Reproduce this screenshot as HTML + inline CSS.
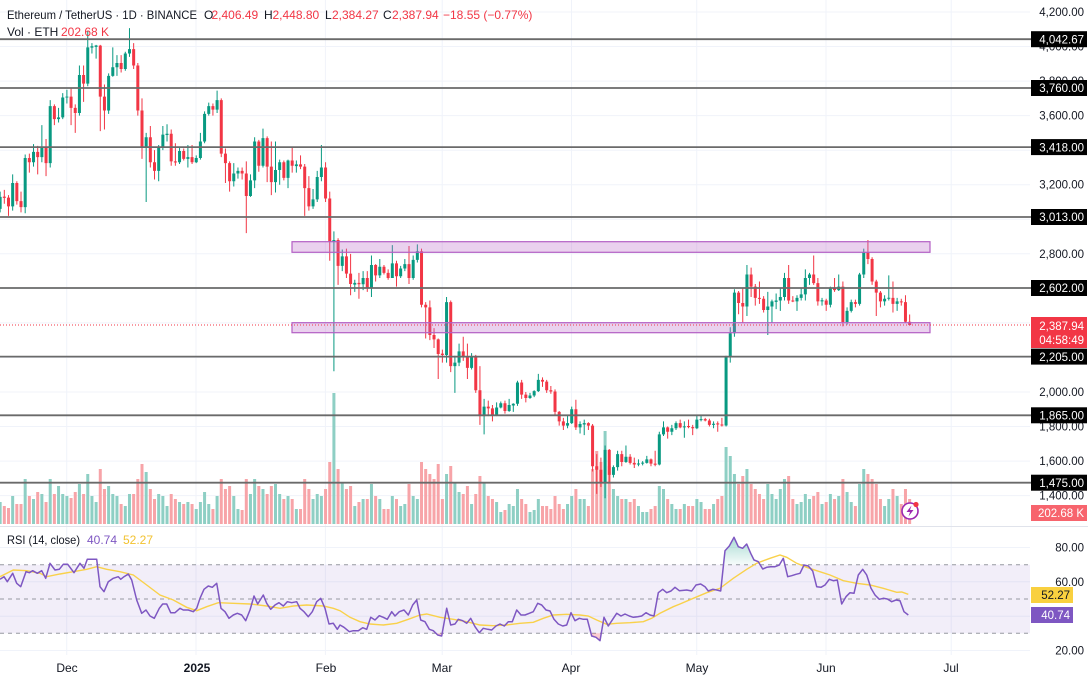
<!DOCTYPE html>
<html><head><meta charset="utf-8">
<style>
html,body{margin:0;padding:0;background:#fff;width:1088px;height:675px;overflow:hidden}
svg{display:block;font-family:"Liberation Sans",sans-serif}
</style></head><body>
<svg width="1088" height="675" viewBox="0 0 1088 675" xmlns="http://www.w3.org/2000/svg">
<defs>
<clipPath id="cm"><rect x="0" y="0" width="1030" height="526"/></clipPath>
<clipPath id="cr"><rect x="0" y="527" width="1030" height="128"/></clipPath>
<linearGradient id="gob" gradientUnits="userSpaceOnUse" x1="0" y1="537" x2="0" y2="565"><stop offset="0" stop-color="#089981" stop-opacity="0.35"/><stop offset="1" stop-color="#089981" stop-opacity="0.03"/></linearGradient>
</defs>

<!-- grid -->
<g stroke="#f0f3fa" stroke-width="1">
<line x1="0" x2="1030" y1="12" y2="12"/><line x1="0" x2="1030" y1="46.5" y2="46.5"/><line x1="0" x2="1030" y1="81.1" y2="81.1"/><line x1="0" x2="1030" y1="115.6" y2="115.6"/><line x1="0" x2="1030" y1="150.2" y2="150.2"/><line x1="0" x2="1030" y1="184.7" y2="184.7"/><line x1="0" x2="1030" y1="219.3" y2="219.3"/><line x1="0" x2="1030" y1="253.8" y2="253.8"/><line x1="0" x2="1030" y1="288.4" y2="288.4"/><line x1="0" x2="1030" y1="322.9" y2="322.9"/><line x1="0" x2="1030" y1="357.5" y2="357.5"/><line x1="0" x2="1030" y1="392" y2="392"/><line x1="0" x2="1030" y1="426.5" y2="426.5"/><line x1="0" x2="1030" y1="461.1" y2="461.1"/><line x1="0" x2="1030" y1="495.6" y2="495.6"/>
<line x1="0" x2="1030" y1="547.5" y2="547.5"/><line x1="0" x2="1030" y1="581.8" y2="581.8"/><line x1="0" x2="1030" y1="616.2" y2="616.2"/><line x1="0" x2="1030" y1="650.5" y2="650.5"/>
<line x1="66.7" x2="66.7" y1="0" y2="655"/><line x1="196" x2="196" y1="0" y2="655"/><line x1="325.4" x2="325.4" y1="0" y2="655"/><line x1="442.2" x2="442.2" y1="0" y2="655"/><line x1="571.5" x2="571.5" y1="0" y2="655"/><line x1="696.7" x2="696.7" y1="0" y2="655"/><line x1="826" x2="826" y1="0" y2="655"/><line x1="951.2" x2="951.2" y1="0" y2="655"/>
</g>
<line x1="0" x2="1088" y1="526.5" y2="526.5" stroke="#e0e3eb" stroke-width="1"/>

<!-- volume -->
<g clip-path="url(#cm)"><g transform="matrix(4.172 0 0 -1 0.148 524)" fill="none">
<path vector-effect="non-scaling-stroke" stroke="#8ecfc4" stroke-width="3" d="M0 0V22M3 0V28M6 0V45M8 0V25M10 0V30M12 0V45M14 0V38M15 0V30M16 0V28M19 0V40M21 0V50M22 0V28M23 0V22M26 0V38M27 0V30M28 0V28M30 0V18M31 0V30M35 0V52M38 0V30M39 0V28M40 0V18M43 0V22M45 0V22M47 0V15M48 0V22M49 0V32M50 0V20M52 0V28M56 0V28M57 0V15M60 0V30M61 0V45M63 0V35M66 0V40M67 0V30M69 0V28M71 0V15M75 0V25M76 0V30M77 0V28M80 0V131M82 0V42M85 0V18M87 0V25M89 0V40M91 0V25M94 0V28M96 0V18M97 0V20M99 0V28M100 0V25M107 0V50M109 0V42M110 0V32M113 0V20M116 0V42M119 0V22M120 0V12M122 0V20M123 0V18M124 0V35M127 0V12M128 0V14M129 0V25M136 0V20M137 0V28M139 0V25M140 0V25M145 0V93M147 0V35M148 0V28M150 0V25M153 0V18M154 0V12M155 0V12M158 0V38M159 0V35M161 0V20M162 0V15M164 0V20M167 0V25M168 0V22M171 0V20M174 0V77M175 0V68M176 0V50M179 0V55M184 0V40M185 0V30M186 0V25M187 0V35M188 0V45M191 0V20M192 0V22M193 0V30M194 0V25M197 0V20M199 0V30M201 0V28M203 0V32M204 0V22M206 0V40M207 0V55M212 0V18M213 0V25M215 0V28"/>
<path vector-effect="non-scaling-stroke" stroke="#f7a4a8" stroke-width="3" d="M1 0V18M2 0V16M4 0V20M5 0V20M7 0V28M9 0V32M11 0V22M13 0V30M17 0V26M18 0V32M20 0V30M24 0V55M25 0V35M29 0V20M32 0V30M33 0V45M34 0V60M36 0V35M37 0V25M41 0V30M42 0V25M44 0V20M46 0V20M51 0V15M53 0V45M54 0V35M55 0V38M58 0V14M59 0V45M62 0V38M64 0V30M65 0V38M68 0V25M70 0V25M72 0V15M73 0V45M74 0V35M78 0V35M79 0V62M81 0V55M83 0V35M84 0V38M86 0V22M88 0V25M90 0V28M92 0V15M93 0V15M95 0V25M98 0V40M101 0V62M102 0V55M103 0V50M104 0V45M105 0V60M106 0V25M108 0V58M111 0V30M112 0V38M114 0V30M115 0V48M117 0V28M118 0V25M121 0V14M125 0V25M126 0V20M130 0V18M131 0V18M132 0V15M133 0V28M134 0V20M135 0V15M138 0V35M141 0V18M142 0V55M143 0V73M144 0V62M146 0V58M149 0V25M151 0V22M152 0V25M156 0V15M157 0V18M160 0V25M163 0V15M165 0V18M166 0V18M169 0V15M170 0V15M172 0V25M173 0V28M177 0V40M178 0V48M180 0V40M181 0V35M182 0V30M183 0V25M189 0V48M190 0V25M195 0V28M196 0V32M198 0V22M200 0V25M202 0V45M205 0V18M208 0V50M209 0V45M210 0V40M211 0V25M214 0V35M216 0V20M217 0V35M218 0V25"/>
</g></g>

<!-- candles -->
<g clip-path="url(#cm)"><g transform="matrix(4.172 0 0 -0.172727 0.148 737.4534)" fill="none">
<path vector-effect="non-scaling-stroke" stroke="#089981" stroke-width="1" d="M0 3160V3040M3 3260V3050M6 3375V3035M8 3435V3305M10 3545V3330M12 3690V3300M14 3645V3560M15 3730V3580M16 3750V3670M19 3890V3600M21 4090V3770M22 4020V3960M23 4010V3930M26 3845V3610M27 3995V3825M28 3950V3830M30 3970V3860M31 4107V3940M35 3500V3100M38 3430V3220M39 3540V3400M40 3550V3450M43 3420V3320M45 3430V3300M47 3370V3325M48 3500V3345M49 3625V3440M50 3675V3600M52 3745V3615M56 3325V3190M57 3300V3235M60 3260V3130M61 3475V3180M63 3525V3300M66 3450V3155M67 3345V3200M69 3345V3180M71 3340V3270M75 3175V3060M76 3280V3100M77 3430V3220M80 2930V2120M82 2825V2700M85 2650V2580M87 2700V2590M89 2790V2550M91 2770V2660M94 2850V2660M96 2730V2660M97 2770V2700M99 2790V2650M100 2855V2750M107 2550V2170M109 2210V1995M110 2280V2150M113 2225V2130M116 1960V1755M119 1940V1860M120 1945V1905M122 1960V1885M123 1935V1885M124 2065V1920M127 1995V1960M128 2010V1970M129 2105V2000M136 1865V1790M137 1915V1815M139 1830V1760M140 1840V1750M145 1690V1385M147 1575V1505M148 1660V1545M150 1690V1590M153 1610V1570M154 1600V1575M155 1630V1585M158 1770V1575M159 1830V1745M161 1810V1750M162 1830V1780M164 1830V1735M167 1870V1785M168 1865V1830M171 1830V1790M174 2210V1800M175 2375V2170M176 2595V2320M179 2735V2440M184 2580V2330M185 2535V2400M186 2570V2480M187 2600V2470M188 2690V2530M191 2560V2470M192 2600V2530M193 2710V2530M194 2690V2620M197 2545V2500M199 2610V2490M201 2680V2585M203 2490V2390M204 2535V2460M206 2690V2500M207 2830V2660M212 2560V2500M213 2675V2530M215 2545V2470"/>
<path vector-effect="non-scaling-stroke" stroke="#f23645" stroke-width="1" d="M1 3170V3090M2 3140V3020M4 3220V3085M5 3160V3040M7 3380V3270M9 3425V3260M11 3465V3250M13 3665V3545M17 3760V3545M18 3665V3500M20 3890V3680M24 4010V3510M25 3780V3520M29 3950V3850M32 4020V3870M33 3905V3600M34 3700V3350M36 3540V3300M37 3400V3230M41 3520V3310M42 3440V3310M44 3410V3340M46 3430V3320M51 3670V3600M53 3700V3360M54 3410V3210M55 3335V3160M58 3300V3230M59 3335V2920M62 3460V3275M64 3480V3215M65 3450V3140M68 3340V3225M70 3420V3270M72 3370V3290M73 3320V3020M74 3250V3050M78 3330V3100M79 3160V2760M81 2890V2620M83 2830V2660M84 2800V2560M86 2690V2540M88 2700V2580M90 2740V2640M92 2735V2680M93 2710V2650M95 2760V2610M98 2845V2625M101 2830V2490M102 2520V2310M103 2530V2300M104 2370V2255M105 2310V2075M106 2245V2170M108 2530V2115M111 2320V2180M112 2280V2075M114 2215V1995M115 2150V1810M117 1950V1860M118 1925V1830M121 1950V1875M125 2070V1960M126 2000V1940M130 2085V2030M131 2070V1995M132 2035V1990M133 2015V1865M134 1890V1805M135 1850V1780M138 1955V1780M141 1825V1780M142 1815V1540M143 1640V1410M144 1620V1450M146 1670V1470M149 1660V1570M151 1640V1580M152 1620V1560M156 1615V1570M157 1660V1570M160 1800V1730M163 1840V1790M165 1840V1790M166 1810V1750M169 1850V1830M170 1845V1800M172 1830V1770M173 1850V1800M177 2585V2450M178 2600V2400M180 2720V2550M181 2625V2500M182 2640V2510M183 2555V2460M189 2735V2510M190 2555V2520M195 2790V2620M196 2660V2500M198 2540V2470M200 2660V2580M202 2640V2380M205 2535V2490M208 2880V2740M209 2780V2620M210 2650V2440M211 2585V2490M214 2640V2460M216 2540V2500M217 2560V2400M218 2448.8V2384.27"/>
<path vector-effect="non-scaling-stroke" stroke="#089981" stroke-width="3" d="M0 3060V3130M3 3075V3210M6 3070V3355M8 3330V3390M10 3360V3415M12 3325V3655M14 3580V3590M15 3590V3705M16 3705V3710M19 3615V3835M21 3785V3995M22 3994V4002M23 3998V4006M26 3630V3830M27 3830V3880M28 3880V3905M30 3870V3960M31 3960V3985M35 3420V3475M38 3280V3420M39 3420V3490M40 3488V3495M43 3330V3395M45 3350V3360M47 3330V3355M48 3355V3450M49 3450V3610M50 3610V3655M52 3635V3690M56 3220V3265M57 3265V3280M60 3135V3225M61 3225V3450M63 3310V3470M66 3215V3285M67 3285V3330M69 3240V3340M71 3308V3318M75 3075V3115M76 3115V3245M77 3245V3300M80 2870V2880M82 2730V2785M85 2622V2632M87 2624V2660M89 2600V2735M91 2675V2725M94 2660V2745M96 2670V2715M97 2715V2740M99 2660V2765M100 2765V2815M107 2214V2520M109 2150V2170M110 2170V2235M113 2140V2200M116 1860V1915M119 1865V1910M120 1910V1935M122 1890V1925M123 1922V1932M124 1932V2055M127 1965V1980M128 1980V2005M129 2005V2070M136 1805V1820M137 1820V1900M139 1795V1815M140 1812V1820M145 1470V1665M147 1520V1565M148 1565V1640M150 1595V1625M153 1580V1586M154 1585V1591M155 1590V1610M158 1580V1755M159 1755V1795M161 1770V1790M162 1790V1820M164 1795V1801M167 1790V1840M168 1837V1843M171 1810V1816M174 1806V2200M175 2200V2340M176 2340V2575M179 2495V2680M184 2475V2495M185 2495V2525M186 2522V2530M187 2530V2550M188 2550V2660M191 2525V2545M192 2545V2565M193 2565V2660M194 2660V2680M197 2525V2531M199 2505V2600M201 2590V2610M203 2405V2470M204 2470V2520M206 2510V2680M207 2680V2810M212 2525V2540M213 2540V2546M215 2510V2525"/>
<path vector-effect="non-scaling-stroke" stroke="#f23645" stroke-width="3" d="M1 3131V3124M2 3125V3075M4 3210V3105M5 3105V3070M7 3355V3330M9 3390V3360M11 3415V3325M13 3655V3580M17 3710V3645M18 3645V3615M20 3835V3785M24 4005V3710M25 3710V3630M29 3905V3870M32 3985V3890M33 3890V3630M34 3630V3420M36 3475V3330M37 3330V3280M41 3495V3335M42 3335V3329M44 3395V3350M46 3360V3330M51 3655V3635M53 3690V3380M54 3380V3325M55 3325V3220M58 3280V3265M59 3265V3135M62 3450V3310M64 3470V3305M65 3305V3215M68 3330V3240M70 3340V3310M72 3318V3305M73 3305V3180M74 3180V3075M78 3300V3120M79 3120V2870M81 2880V2730M83 2785V2685M84 2685V2625M86 2632V2624M88 2660V2600M90 2735V2675M92 2725V2690M93 2690V2660M95 2745V2670M98 2740V2660M101 2815V2505M102 2505V2490M103 2490V2330M104 2330V2305M105 2305V2220M106 2222V2214M108 2520V2150M111 2235V2200M112 2200V2140M114 2200V2010M115 2010V1860M117 1915V1905M118 1905V1865M121 1935V1890M125 2055V1985M126 1985V1965M130 2070V2060M131 2060V2010M132 2010V2003M133 2003V1885M134 1885V1830M135 1830V1805M138 1900V1795M141 1820V1805M142 1805V1570M143 1570V1550M144 1550V1470M146 1665V1520M149 1640V1595M151 1625V1590M152 1590V1580M156 1610V1585M157 1585V1579M160 1795V1770M163 1820V1795M165 1803V1797M166 1797V1790M169 1843V1835M170 1835V1810M172 1818V1812M173 1812V1806M177 2575V2515M178 2515V2495M180 2680V2610M181 2610V2545M182 2545V2539M183 2540V2475M189 2660V2530M190 2530V2524M195 2680V2630M196 2630V2525M198 2530V2505M200 2600V2590M202 2610V2405M205 2520V2510M208 2810V2770M209 2770V2640M210 2640V2575M211 2575V2525M214 2545V2510M216 2525V2519M217 2520V2406.49M218 2406.49V2387.94"/>
</g></g>

<!-- horizontal levels -->
<g stroke="#6a6a6a" stroke-width="1.8">
<line x1="0" x2="1031" y1="39.2" y2="39.2"/>
<line x1="0" x2="1031" y1="88" y2="88"/>
<line x1="0" x2="1031" y1="147.1" y2="147.1"/>
<line x1="0" x2="1031" y1="217" y2="217"/>
<line x1="0" x2="1031" y1="288" y2="288"/>
<line x1="0" x2="1031" y1="356.6" y2="356.6"/>
<line x1="0" x2="1031" y1="415.3" y2="415.3"/>
<line x1="0" x2="1031" y1="482.7" y2="482.7"/>
</g>

<!-- zones -->
<rect x="292" y="241.7" width="638" height="10.6" fill="#ba68c8" fill-opacity="0.3" stroke="#b35fc4" stroke-width="1.2"/>
<rect x="292" y="322.7" width="638" height="10" fill="#ba68c8" fill-opacity="0.3" stroke="#b35fc4" stroke-width="1.2"/>

<!-- current price line -->
<line x1="0" x2="1031" y1="325" y2="325" stroke="#f23645" stroke-width="1" stroke-dasharray="1,2"/>

<!-- RSI pane -->
<rect x="0" y="564.7" width="1030" height="68.6" fill="#7e57c2" fill-opacity="0.1"/>
<g stroke="#9598a1" stroke-width="1" stroke-dasharray="4,4">
<line x1="0" x2="1030" y1="564.7" y2="564.7"/>
<line x1="0" x2="1030" y1="599" y2="599"/>
<line x1="0" x2="1030" y1="633.3" y2="633.3"/>
</g>
<g clip-path="url(#cr)">
<polygon points="723.3,564.7 725,550.7 729.3,546 734,537.3 738.3,546.7 742.7,548.3 746.7,544 750.7,553.3 754,560 756,564.7" fill="url(#gob)"/>
<polygon points="435.8,633.3 437.7,635 441.7,636 442.6,633.3" fill="#f23645" fill-opacity="0.25"/>
<polygon points="589.9,633.3 591.7,636 596,637.3 600,640.7 601.2,633.3" fill="#f23645" fill-opacity="0.25"/>
<polyline fill="none" stroke="#f9d14a" stroke-width="1.4" points="0,576.7 13.3,570 26.7,570.7 40,573.3 46.7,576.7 60,574 73.3,571.7 86.7,569.3 96.7,566.7 106.7,569.3 120,571.7 133.3,575 146.7,585 160,595 173.3,600 186.7,607.3 196.7,610.7 206.7,606.7 218.3,602.7 233.3,603.3 250,604 266.7,606 280,608.3 293.3,606 306.7,605 323.3,606 333.3,608.3 340,610.7 350,617.3 360,621.7 370,624 383.3,625 396.7,623.3 408.3,619.3 420,615 426.7,614 440,617.3 453.3,619.3 466.7,621.7 480,625 493.3,625.7 506.7,625 520,623.3 533.3,622.3 543.3,618.3 553.3,615 566.7,614.3 580,615 588.3,616 596.7,620 606.7,624.3 616.7,623.3 630,622.7 643.3,621.7 651.7,618.3 660,613.3 673.3,606.7 680,604 693.3,598.3 706.7,592.7 720,588.3 733.3,578.3 746.7,569.3 756.7,563.3 770,558.3 780,555 786.7,557.3 796.7,563.3 806.7,567.3 816.7,570.7 830,575 843.3,580.7 856.7,583.3 870,585 883.3,588.3 896.7,592.3 901.7,592 908.3,594.3"/>
<polyline fill="none" stroke="#7e57c2" stroke-width="1.5" stroke-linejoin="round" points="0,579.3 4,576.7 7.3,581.7 12.7,573.3 16.7,583.3 20.7,586.7 26,571.7 29.3,572.7 32.7,570.7 37.3,573.3 41.7,570.7 45.7,578.3 50,563.3 55,570 59.3,569.3 63.3,564.3 67.7,564.3 70.7,568.3 74,572.7 80,563.3 84,568.3 87.3,559.3 96.7,559.3 100,586.7 104,591.7 108.3,581.7 113.3,578.3 118.3,576.7 120.7,579.3 124,576.7 128.3,574 131.7,580 136.7,600 141.7,613.3 146,610 150,616 154.3,618.3 159.3,608.3 162.7,604 166.7,604 170.7,612.7 175,612.7 180,608.3 183.3,610 188.3,610 193.3,611.7 196.7,608.3 200,598.3 204,589.3 208.3,586 212.3,587.3 216.7,583.3 221,608.3 225,611.7 229,618.3 233.3,615 237.3,613.3 241.7,615 245.7,620.7 250,610 254,596 257.7,604 263.3,595 266.7,603.3 270.7,609.3 275,605 279,602.7 283.3,606 287.3,601.7 291.7,602.7 296.7,601.7 300,608.3 304,611.7 308.3,616.7 312.3,611.7 316.7,601.7 320.7,598.3 325,608.3 329,624 333.3,623.3 337.3,629.3 340,625 344,627.3 349.3,631.7 353.3,630.7 358.3,630.7 362.7,627.7 366.7,629.3 370.7,617.3 375,620 379.3,615.7 383.3,617.3 387.3,619.3 391.7,611.7 395,616 399.3,611.7 404,610 408.3,615 412.7,605 416.7,600 420.7,620 425,621.7 429.3,629.3 433.3,630.7 437.7,635 441.7,636 446.7,608.3 450.7,625 455,624 458.3,619.3 462.7,620.7 466.7,623.3 470.7,618.3 475,626.7 479.3,632.7 483.3,628.3 487.7,629.3 491.7,630 496,626 500,624 504.3,626 508.3,621.7 512.3,621.7 516.7,610 521,615 525,615 529.3,613.3 533.3,611.7 537.7,603.3 541.7,605 546,610 550,611 554,619.3 558.3,624 562.7,626 566.7,625 571,612.7 575,620.7 579.3,618.3 583.3,619.3 587.3,619.3 591.7,636 596,637.3 600,640.7 604,617.3 608.3,626 612.7,619.3 616.7,613.3 621,616 625,614 629.3,616 633.3,617.3 637.7,616.7 641.7,616 646,612.7 650,615 654,616 658.3,592.7 662.7,589.3 666.7,592.7 671,591 675,587.3 679.3,590.7 686.7,590 691.7,591 696,585 700.7,584 705,586.7 708.3,591 712.7,589.3 716.7,590 720.7,591 725,550.7 729.3,546 734,537.3 738.3,546.7 742.7,548.3 746.7,544 750.7,553.3 754,560 758.3,561.7 762.7,569 766.7,567.3 770.7,566.7 775,566.7 779.3,565 783.3,558.3 787.7,576.7 791.7,575.7 796,574.3 800,573.3 804,565 808.3,566 812.7,571 816.7,586.7 821,587.3 825,585 829.3,579.3 833.3,580.7 837.3,580 841.7,604 846,596.7 850,592.7 854,593.3 858.3,575 862.7,569.3 866.7,575 871,588.3 875,595 879.3,599.3 883.3,598.3 887.3,599 891.7,601.7 896,600 900,600.7 904,611.7 908.3,615"/>
</g>

<!-- legend -->
<text x="7" y="19" font-size="12" fill="#131722" textLength="190" lengthAdjust="spacingAndGlyphs">Ethereum / TetherUS · 1D · BINANCE</text>
<text y="19" font-size="12" fill="#131722"><tspan x="204">O</tspan><tspan x="211.5" fill="#f23645">2,406.49</tspan><tspan x="264">H</tspan><tspan x="272.5" fill="#f23645">2,448.80</tspan><tspan x="325">L</tspan><tspan x="332" fill="#f23645">2,384.27</tspan><tspan x="383">C</tspan><tspan x="392" fill="#f23645">2,387.94</tspan><tspan x="443" fill="#f23645">−18.55 (−0.77%)</tspan></text>
<text x="7" y="36" font-size="12" fill="#131722">Vol · ETH</text>
<text x="61" y="36" font-size="12" fill="#f23645">202.68 K</text>

<text x="7" y="544" font-size="12" fill="#131722" textLength="73" lengthAdjust="spacingAndGlyphs">RSI (14, close)</text>
<text x="87" y="544" font-size="12" fill="#7e57c2">40.74</text>
<text x="123" y="544" font-size="12" fill="#f2c230">52.27</text>

<!-- price axis labels -->
<g font-size="11.5" fill="#131722" text-anchor="end">
<text x="1084" y="16">4,200.00</text>
<text x="1084" y="50.5">4,000.00</text>
<text x="1084" y="85">3,800.00</text>
<text x="1084" y="119.6">3,600.00</text>
<text x="1084" y="188.7">3,200.00</text>
<text x="1084" y="257.8">2,800.00</text>
<text x="1084" y="396">2,000.00</text>
<text x="1084" y="430.6">1,800.00</text>
<text x="1084" y="465">1,600.00</text>
<text x="1084" y="499.7">1,400.00</text>
<text x="1084" y="551.5">80.00</text>
<text x="1084" y="585.8">60.00</text>
<text x="1084" y="654.5">20.00</text>
</g>
<g fill="#000">
<rect x="1031" y="31.2" width="56" height="16"/>
<rect x="1031" y="80" width="56" height="16"/>
<rect x="1031" y="139.1" width="56" height="16"/>
<rect x="1031" y="209" width="56" height="16"/>
<rect x="1031" y="280" width="56" height="16"/>
<rect x="1031" y="348.6" width="56" height="16"/>
<rect x="1031" y="407.3" width="56" height="16"/>
<rect x="1031" y="474.7" width="56" height="16"/>
</g>
<g font-size="11.5" fill="#fff" text-anchor="end">
<text x="1084" y="43.4">4,042.67</text>
<text x="1084" y="92.2">3,760.00</text>
<text x="1084" y="151.3">3,418.00</text>
<text x="1084" y="221.2">3,013.00</text>
<text x="1084" y="292.2">2,602.00</text>
<text x="1084" y="360.8">2,205.00</text>
<text x="1084" y="419.5">1,865.00</text>
<text x="1084" y="486.9">1,475.00</text>
</g>
<rect x="1031" y="317" width="56" height="31" fill="#f23645"/>
<text x="1084" y="330" font-size="11.5" fill="#fff" text-anchor="end">2,387.94</text>
<text x="1084" y="344" font-size="11.5" fill="#fff" text-anchor="end">04:58:49</text>
<rect x="1031" y="505" width="56" height="16" fill="#f7646d"/>
<text x="1084" y="517" font-size="11.5" fill="#fff" text-anchor="end">202.68 K</text>
<rect x="1031" y="587" width="42" height="16" fill="#f9d03f"/>
<text x="1070" y="599" font-size="11.5" fill="#131722" text-anchor="end">52.27</text>
<rect x="1031" y="607" width="42" height="16" fill="#7e57c2"/>
<text x="1070" y="619" font-size="11.5" fill="#fff" text-anchor="end">40.74</text>

<!-- time axis -->
<g font-size="12" fill="#131722" text-anchor="middle">
<text x="67" y="672">Dec</text>
<text x="197" y="672" font-weight="bold">2025</text>
<text x="326" y="672">Feb</text>
<text x="442" y="672">Mar</text>
<text x="571" y="672">Apr</text>
<text x="697" y="672">May</text>
<text x="826" y="672">Jun</text>
<text x="951" y="672">Jul</text>
</g>

<!-- lightning icon -->
<circle cx="910" cy="511" r="8" fill="#fff" stroke="#9c27b0" stroke-width="1.6"/>
<path d="M911.5 505.5 L906.5 512 L910 512 L908.5 516.5 L913.5 510 L910 510 Z" fill="#9c27b0"/>
<circle cx="916" cy="504.5" r="2.6" fill="#f23645"/>
</svg>
</body></html>
